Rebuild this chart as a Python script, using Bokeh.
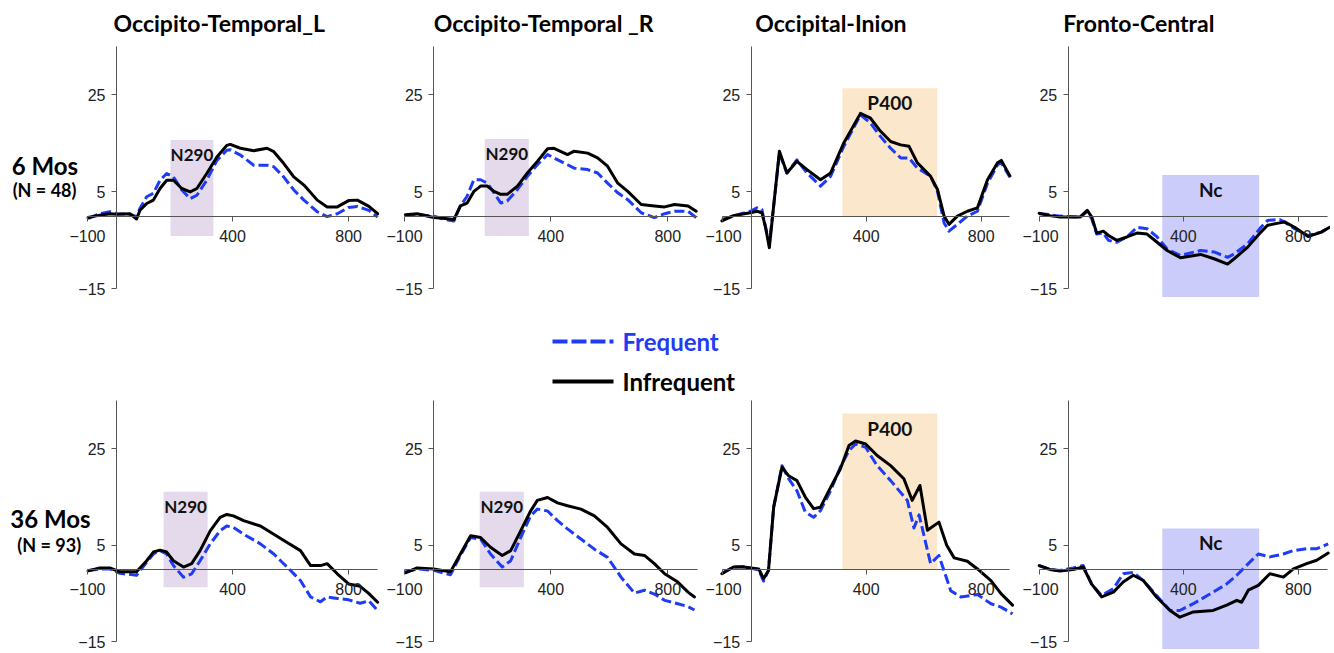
from bokeh.plotting import figure
from bokeh.models import Range1d, LinearAxis, FixedTicker, Label
from bokeh.layouts import column, row
from bokeh.embed import file_html
from bokeh.resources import INLINE

# ---------------- data ----------------
channels = ["Occipito-Temporal_L", "Occipito-Temporal _R", "Occipital-Inion", "Fronto-Central"]
ages = ["6 Mos", "36 Mos"]
n_labels = ["(N = 48)", "(N = 93)"]
series_names = ["Frequent", "Infrequent"]
x_ticks = [-100, 400, 800]
y_ticks = [-15, 5, 25]

# 6 months - Occipito-Temporal_L
t_otl_6 = [-98, -58, -23, 0, 46, 69, 81, 104, 127, 150, 173, 196, 225, 254, 277, 311, 346, 380, 392, 427,
           473, 519, 542, 576, 611, 646, 692, 726, 761, 800, 830, 870, 900]
freq_otl_6 = [-0.5, 0.5, 0.9, 0.5, 0.4, -0.1, 1.6, 4.0, 4.7, 7.4, 8.8, 8.1, 5.4, 3.6, 4.3, 7.4, 11.5, 13.6, 13.7, 12.6,
              10.5, 10.5, 10.2, 8.1, 5.4, 3.3, 0.9, -0.1, 0.5, 1.8, 2.0, 1.2, -0.2]
infr_otl_6 = [-0.3, 0.2, 0.5, 0.4, 0.5, -0.6, 1.2, 2.6, 3.3, 5.7, 7.4, 7.4, 5.7, 5.0, 5.7, 8.8, 12.2, 14.6, 14.8, 14.0,
              13.5, 14.0, 13.3, 10.9, 8.1, 6.4, 3.3, 1.9, 1.9, 3.2, 3.3, 2.0, 0.5]

# 6 months - Occipito-Temporal_R
t_otr_6 = [-97, -57, 0, 40, 69, 91, 114, 137, 160, 183, 206, 229, 251, 286, 320, 354, 389, 411, 457, 480,
           526, 560, 594, 629, 663, 709, 754, 789, 823, 869, 897]
freq_otr_6 = [0.2, 0.3, 0.0, -0.7, -1.0, 2.1, 4.1, 7.5, 7.5, 6.8, 4.8, 2.7, 3.1, 5.5, 8.2, 10.6, 12.7, 12.0, 10.6, 9.9,
              9.6, 8.9, 6.8, 4.8, 3.4, 0.7, -0.3, 0.5, 1.0, 1.0, -0.3]
infr_otr_6 = [0.3, 0.5, -0.3, -0.5, -0.7, 2.1, 2.7, 5.1, 6.2, 6.2, 5.1, 4.5, 4.5, 6.2, 8.9, 11.3, 13.9, 14.0, 12.7, 13.4,
              13.0, 12.0, 10.3, 6.8, 5.1, 2.4, 2.1, 1.9, 2.4, 2.1, 1.0]

# 6 months - Occipital-Inion
t_oi_6 = [-102, -62, -3, 20, 37, 49, 63, 78, 98, 124, 159, 194, 241, 276, 322, 380, 415, 450, 485, 520,
          549, 578, 624, 648, 671, 688, 717, 752, 787, 822, 857, 870, 900]
freq_oi_6 = [-0.7, 0.0, 1.0, 1.7, 1.4, -2.1, -5.5, 2.1, 13.0, 8.9, 11.6, 8.9, 6.2, 8.2, 14.4, 20.9, 19.2, 16.4, 14.0, 12.0,
             12.0, 9.9, 8.2, 5.1, -1.4, -3.1, -1.7, 0.0, 1.0, 6.8, 10.6, 11.0, 8.0]
infr_oi_6 = [-1.0, 0.1, 0.7, 1.0, 0.7, -2.1, -6.5, 2.1, 13.4, 8.9, 11.3, 9.6, 7.5, 8.9, 15.1, 21.2, 20.2, 17.5, 15.4, 14.7,
             14.4, 11.0, 8.2, 5.5, 0.0, -1.7, 0.0, 1.0, 1.7, 7.5, 11.0, 11.5, 8.3]

# 6 months - Fronto-Central
t_fc_6 = [-101, -64, -29, 41, 66, 82, 99, 122, 140, 169, 204, 239, 274, 309, 344, 390, 460, 507, 554, 577,
          624, 670, 693, 735, 752, 787, 834, 880, 909]
freq_fc_6 = [0.5, 0.3, 0.0, -0.2, 1.0, -0.6, -3.7, -3.5, -5.0, -5.4, -4.3, -2.3, -2.6, -4.3, -6.8, -8.1, -7.1, -7.4, -8.5, -7.8,
             -5.7, -2.3, -0.9, -0.7, -1.2, -2.6, -4.0, -3.3, -2.3]
infr_fc_6 = [0.6, 0.1, -0.2, -0.2, 1.2, -0.2, -3.5, -3.1, -4.0, -5.0, -4.3, -3.5, -3.7, -5.4, -7.1, -8.6, -7.9, -8.8, -9.9, -8.8,
             -6.4, -3.3, -1.9, -1.4, -1.2, -2.3, -4.2, -3.3, -2.3]

# 36 months - Occipito-Temporal_L
t_otl_36 = [-98, -58, -23, 12, 69, 104, 127, 150, 173, 196, 231, 259, 288, 323, 357, 380, 403, 438, 496, 542,
            588, 634, 669, 703, 726, 761, 800, 840, 870, 900]
freq_otl_36 = [-0.2, 0.1, 0.1, -0.8, -1.2, 1.5, 3.2, 3.9, 3.2, 0.8, -1.6, -0.9, 1.8, 5.3, 8.0, 9.0, 8.7, 7.3, 5.3, 3.2,
               0.5, -2.3, -5.7, -6.7, -5.7, -6.0, -6.3, -7.0, -6.5, -8.5]
infr_otl_36 = [-0.3, 0.3, 0.3, -0.5, -0.5, 1.8, 3.6, 4.0, 3.6, 1.8, 0.5, 1.2, 3.9, 8.0, 10.8, 11.4, 11.1, 10.1, 9.0, 7.3,
               5.6, 3.9, 0.8, 0.8, 1.2, -0.9, -3.0, -3.5, -5.0, -6.8]

# 36 months - Occipito-Temporal_R
t_otr_36 = [-97, -57, 0, 57, 91, 126, 160, 194, 234, 263, 297, 331, 354, 389, 423, 457, 503, 549, 594, 640,
            686, 720, 754, 789, 834, 869, 891]
freq_otr_36 = [-0.5, 0.1, -0.2, -1.1, 2.9, 6.6, 6.3, 3.2, 0.5, 1.8, 6.6, 11.1, 12.5, 12.1, 10.1, 8.4, 6.3, 4.2, 2.5, -1.6,
               -4.9, -4.3, -5.1, -6.4, -7.1, -7.7, -8.4]
infr_otr_36 = [-0.7, 0.3, 0.1, -0.5, 3.2, 7.0, 6.6, 4.6, 2.9, 3.9, 8.0, 12.1, 14.3, 14.9, 13.8, 13.2, 12.5, 11.1, 8.7, 5.3,
               3.2, 2.9, 1.2, -0.9, -2.6, -4.7, -5.7]

# 36 months - Occipital-Inion
t_oi_36_freq = [-102, -62, -27, 26, 43, 60, 78, 107, 130, 159, 188, 217, 241, 276, 310, 340, 363, 398, 438, 485,
                543, 566, 584, 624, 653, 694, 729, 787, 834, 869, 909]
freq_oi_36 = [-0.8, 0.5, 0.6, -0.1, -2.4, -0.2, 12.9, 21.5, 18.8, 16.3, 11.9, 10.8, 12.2, 16.3, 21.2, 24.6, 26.0, 25.3, 21.5, 18.4,
              14.3, 8.6, 11.3, 1.2, 2.9, -4.4, -5.7, -5.2, -7.1, -7.8, -9.2]
t_oi_36_infr = [-102, -62, -27, 26, 43, 60, 78, 107, 130, 159, 188, 217, 241, 276, 310, 340, 363, 398, 438, 485,
                531, 560, 587, 613, 653, 680, 706, 752, 787, 834, 869, 909]
infr_oi_36 = [-0.9, 0.5, 0.5, 0.1, -1.9, -0.2, 12.9, 21.2, 19.4, 18.4, 15.0, 12.6, 12.9, 17.0, 20.8, 25.7, 26.6, 26.0, 23.6, 21.5,
              18.8, 14.3, 17.4, 8.1, 9.8, 5.0, 2.4, 1.7, 0.1, -2.3, -5.0, -7.4]

# 36 months - Fronto-Central
t_fc_36 = [-101, -64, -29, 17, 52, 81, 116, 157, 191, 226, 261, 307, 354, 388, 435, 504, 551, 586, 603, 626,
           661, 701, 748, 783, 829, 864, 904]
freq_fc_36 = [0.8, 0.0, -0.2, 0.3, 0.8, -3.0, -5.4, -4.0, -0.9, -0.6, -2.3, -5.4, -8.5, -8.5, -7.1, -4.7, -3.0, -1.2, -0.2, 1.2,
              3.2, 2.6, 3.2, 3.9, 4.3, 4.3, 5.3]
infr_fc_36 = [0.8, 0.0, -0.3, 0.0, 0.5, -3.0, -5.7, -4.7, -2.6, -1.2, -2.3, -5.7, -8.5, -9.9, -8.8, -8.5, -7.4, -6.4, -6.8, -4.3,
              -3.3, -0.9, -1.6, 0.1, 1.2, 1.9, 3.4]

# component windows (ms, µV)
win_names = ["N290", "N290", "P400", "Nc"]
win_6_start = [186, 174, 317, 327]
win_6_end = [334, 325, 647, 664]
win_6_low = [-4.1, -4.1, 0, -16.7]
win_6_high = [15.7, 15.9, 26.4, 8.5]
win_36_start = [162, 157, 317, 327]
win_36_end = [314, 308, 647, 664]
win_36_low = [-3.7, -3.7, 0, -16.5]
win_36_high = [16.1, 16.1, 32.3, 8.5]

# ---------------- styling / layout ----------------
BLUE = "#1f3cf5"
BLACK = "#000000"
WIN_COLORS = ["#e4daec", "#e4daec", "#fbe8cc", "#ccccfa"]
TXT_FONT = "Lato"
TICK_FONT = "Liberation Sans"

# panel geometry in pixels: left pad, data width, right pad (per column)
col_bl = [87, 18, 17, 17]
col_fw = [291, 292, 288, 289]
col_br = [8, 9, 12, 2]
col_xend = [903, 898, 902, 905]
# rows: top pad, data height, bottom pad
row_bt = [46, 5]
row_fh = [252, 251]
row_bb = [27, 0]
Y_LO, Y_HI = -17, 35
title_x = [-10, 0, 14, -17]

data = [
    [(t_otl_6, freq_otl_6, t_otl_6, infr_otl_6), (t_otr_6, freq_otr_6, t_otr_6, infr_otr_6),
     (t_oi_6, freq_oi_6, t_oi_6, infr_oi_6), (t_fc_6, freq_fc_6, t_fc_6, infr_fc_6)],
    [(t_otl_36, freq_otl_36, t_otl_36, infr_otl_36), (t_otr_36, freq_otr_36, t_otr_36, infr_otr_36),
     (t_oi_36_freq, freq_oi_36, t_oi_36_infr, infr_oi_36), (t_fc_36, freq_fc_36, t_fc_36, infr_fc_36)],
]
wins = [
    (win_6_start, win_6_end, win_6_low, win_6_high),
    (win_36_start, win_36_end, win_36_low, win_36_high),
]


def make_panel(r, c):
    sx = col_fw[c] / (col_xend[c] + 100.0)
    sy = row_fh[r] / float(Y_HI - Y_LO)
    x0 = -100 - col_bl[c] / sx
    x1 = col_xend[c] + col_br[c] / sx
    y0 = Y_LO - row_bb[r] / sy
    y1 = Y_HI + row_bt[r] / sy
    W = col_bl[c] + col_fw[c] + col_br[c]
    H = row_bt[r] + row_fh[r] + row_bb[r]
    p = figure(width=W, height=H, x_range=Range1d(x0, x1), y_range=Range1d(y0, y1),
               x_axis_type=None, y_axis_type=None, title=None, min_border=0,
               output_backend="svg", toolbar_location=None)
    p.outline_line_color = None
    p.background_fill_color = "white"
    p.border_fill_color = "white"

    ws, we, wl, wh = wins[r]
    p.quad(left=[ws[c]], right=[we[c]], bottom=[wl[c]], top=[wh[c]],
           fill_color=WIN_COLORS[c], line_color=None)
    p.add_layout(Label(x=(ws[c] + we[c]) / 2, y=wh[c] - 3.0, text=win_names[c],
                       text_font=TXT_FONT, text_font_style="bold",
                       text_font_size="17px" if c < 2 else "19px",
                       text_align="center", text_baseline="middle", text_color="#111111"))

    for ax_kind in ("y", "x"):
        if ax_kind == "y":
            ax = LinearAxis(fixed_location=0, bounds=(-15, 35), ticker=FixedTicker(ticks=y_ticks))
            ax.major_label_standoff = 6
        else:
            ax = LinearAxis(fixed_location=0, bounds=(-100, 900), ticker=FixedTicker(ticks=x_ticks))
            ax.major_label_standoff = 9
        ax.axis_line_color = "#555555"
        ax.axis_line_width = 1
        ax.major_tick_line_color = "#555555"
        ax.major_tick_out = 5
        ax.major_tick_in = 0
        ax.minor_tick_line_color = None
        ax.major_label_text_font = TICK_FONT
        ax.major_label_text_font_size = "16px"
        ax.major_label_text_color = "#222222"
        p.add_layout(ax, "left" if ax_kind == "y" else "below")

    tf, vf, ti, vi = data[r][c]
    p.line(tf, vf, line_color=BLUE, line_width=3, line_dash="10 4", line_join="round")
    p.line(ti, vi, line_color=BLACK, line_width=3, line_join="round", line_cap="round")

    if r == 0:
        p.add_layout(Label(x=title_x[c], y=Y_HI + 24 / sy, text=channels[c], text_font=TXT_FONT,
                           text_font_style="bold", text_font_size="23px",
                           text_align="left", text_baseline="middle", text_color="#000000"))
    if c == 0:
        p.add_layout(Label(x=-247 if r == 0 else -228, y=10.5, text=ages[r], text_font=TXT_FONT,
                           text_font_style="bold", text_font_size="24px",
                           text_align="center", text_baseline="middle", text_color="#000000"))
        p.add_layout(Label(x=-248 if r == 0 else -232, y=5.3 if r == 0 else 5.0, text=n_labels[r],
                           text_font=TXT_FONT, text_font_style="bold", text_font_size="18px",
                           text_align="center", text_baseline="middle", text_color="#000000"))
    return p


rows = []
for r in range(2):
    rows.append(row([make_panel(r, c) for c in range(4)], spacing=0))

total_w = sum(col_bl) + sum(col_fw) + sum(col_br)

# legend strip (coordinates in page pixels)
leg = figure(width=total_w, height=70, x_range=Range1d(0, total_w), y_range=Range1d(395, 325),
             x_axis_type=None, y_axis_type=None, title=None,
             min_border=0, output_backend="svg", toolbar_location=None)
leg.outline_line_color = None
leg.border_fill_color = "white"
leg.background_fill_color = "white"
leg_colors = [BLUE, BLACK]
leg_dash = ["15 4", "solid"]
leg_y = [341, 381]
for i, name in enumerate(series_names):
    leg.line([552, 613], [leg_y[i], leg_y[i]], line_color=leg_colors[i], line_width=4, line_dash=leg_dash[i])
    leg.add_layout(Label(x=622, y=leg_y[i], text=name, text_font=TXT_FONT, text_font_style="bold",
                         text_font_size="24px", text_align="left", text_baseline="middle",
                         text_color=leg_colors[i]))

layout = column([rows[0], leg, rows[1]], spacing=0)

open("out.html", "w").write(file_html(layout, INLINE))
